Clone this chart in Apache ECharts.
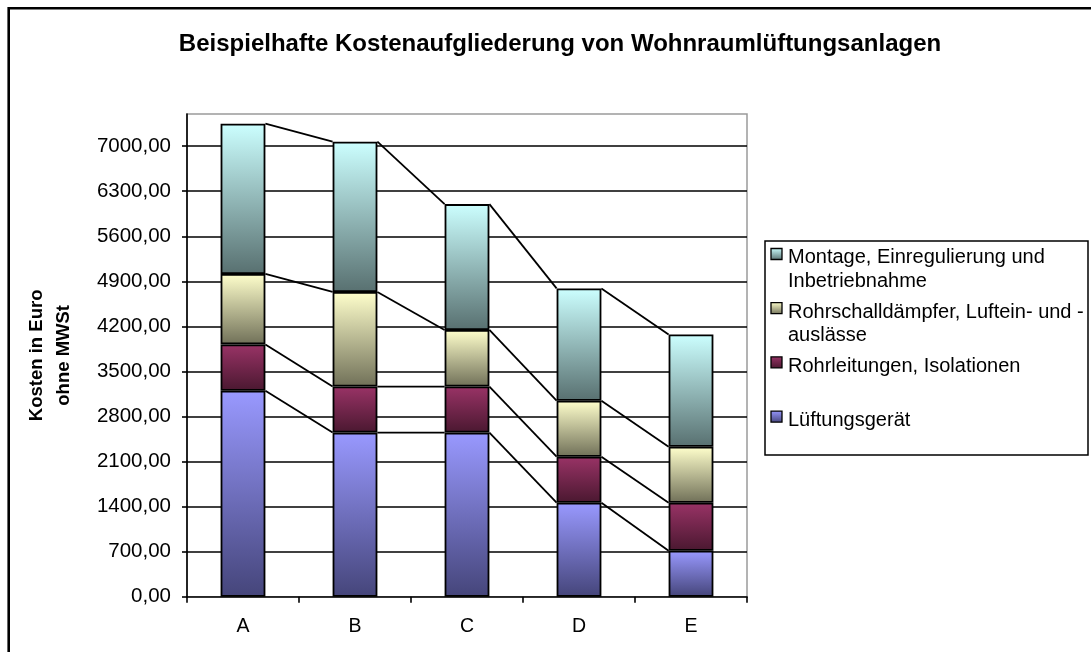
<!DOCTYPE html>
<html>
<head>
<meta charset="utf-8">
<script src="https://cdn.jsdelivr.net/npm/echarts@6/dist/echarts.min.js"></script>
<style>
  html, body { margin: 0; padding: 0; background: #ffffff; }
  #chart { width: 1091px; height: 652px; }
</style>
</head>
<body>
<div id="chart"></div>
<script>
// Categories (installations) and cost components, stacked bottom to top
const categories = ['A', 'B', 'C', 'D', 'E'];
const seriesNames = [
  'Lüftungsgerät',
  'Rohrleitungen, Isolationen',
  'Rohrschalldämpfer, Luftein- und -auslässe',
  'Montage, Einregulierung und Inbetriebnahme'
];
// Legend labels, listed top to bottom (reverse stack order), with line breaks
const legendLabels = [
  'Montage, Einregulierung und\nInbetriebnahme',
  'Rohrschalldämpfer, Luftein- und -\nauslässe',
  'Rohrleitungen, Isolationen',
  'Lüftungsgerät'
];
// Costs in euro without VAT
const lueftungsgeraet = [3200, 2550, 2550, 1460, 715];
const rohrleitungen   = [720, 715, 715, 715, 745];
const rohrschall      = [1095, 1470, 880, 870, 870];
const montage         = [2335, 2335, 1955, 1745, 1745];
// Value axis
const yMin = 0;
const yMax = 7500;
const yInterval = 700;

const seriesValues = [lueftungsgeraet, rohrleitungen, rohrschall, montage];
// Gradient fills (top colour, bottom colour) per component
const gradients = [
  ['#9999FF', '#45457A'],
  ['#993366', '#4A1830'],
  ['#FFFFCC', '#707058'],
  ['#CCFFFF', '#587070']
];
const BAR_RATIO = 0.4;
const FONT = '"Liberation Sans", Arial, sans-serif';

function grad(c) {
  return new echarts.graphic.LinearGradient(0, 0, 0, 1, [
    { offset: 0, color: c[0] },
    { offset: 1, color: c[1] }
  ]);
}

// Cumulative stack tops per category
const cumulative = categories.map((_, i) => {
  let s = 0;
  return seriesValues.map(arr => (s += arr[i]));
});

// Connector-line data: one item per gap between neighbouring bars
const connectorData = [];
for (let i = 0; i < categories.length - 1; i++) {
  connectorData.push([i, i + 1].concat(cumulative[i], cumulative[i + 1]));
}

const chart = echarts.init(document.getElementById('chart'), null, { renderer: 'canvas' });

const barSeries = seriesNames.map((name, k) => ({
  name: name,
  type: 'bar',
  stack: 'total',
  barWidth: (BAR_RATIO * 100) + '%',
  data: seriesValues[k],
  itemStyle: {
    color: grad(gradients[k]),
    borderColor: '#000000',
    borderWidth: 1.8
  },
  emphasis: { disabled: true },
  z: 2
}));

const connectorSeries = {
  type: 'custom',
  name: 'connectors',
  data: connectorData,
  z: 3,
  silent: true,
  renderItem: function (params, api) {
    const a = api.value(0);
    const b = api.value(1);
    const n = seriesNames.length;
    const half = api.size([1, 0])[0] * BAR_RATIO / 2;
    const children = [];
    for (let k = 0; k < n; k++) {
      const p1 = api.coord([a, api.value(2 + k)]);
      const p2 = api.coord([b, api.value(2 + n + k)]);
      children.push({
        type: 'line',
        shape: { x1: p1[0] + half, y1: p1[1], x2: p2[0] - half, y2: p2[1] },
        style: { stroke: '#000000', lineWidth: 1.8 }
      });
    }
    return { type: 'group', children: children };
  },
  encode: { x: 0, y: 2 }
};

// Legend drawn as a framed box on the right
const legendLeft = 765, legendTop = 241, legendW = 323, legendH = 214;
const legendStep = 54.2;
const legendChildren = [{
  type: 'rect',
  shape: { x: legendLeft, y: legendTop, width: legendW, height: legendH },
  style: { fill: '#ffffff', stroke: '#000000', lineWidth: 1.5 }
}];
legendLabels.forEach((label, i) => {
  const k = seriesNames.length - 1 - i;
  const cy = 254 + i * legendStep;
  legendChildren.push({
    type: 'rect',
    shape: { x: 771, y: cy - 5.5, width: 11, height: 11 },
    style: { fill: grad(gradients[k]), stroke: '#000000', lineWidth: 1.3 }
  });
  legendChildren.push({
    type: 'text',
    style: {
      text: label,
      x: 788,
      y: cy - 8,
      fill: '#000000',
      font: '20px ' + FONT,
      lineHeight: 23.7,
      verticalAlign: 'top'
    }
  });
});

const option = {
  backgroundColor: '#ffffff',
  animation: false,
  title: {
    text: 'Beispielhafte Kostenaufgliederung von Wohnraumlüftungsanlagen',
    left: 555,
    top: 27,
    textAlign: 'center',
    textStyle: {
      fontFamily: FONT,
      fontWeight: 'bold',
      fontSize: 24,
      color: '#000000'
    }
  },
  grid: {
    left: 187,
    right: 344,
    top: 114,
    bottom: 55.3,
    show: true,
    borderColor: '#9a9a9a',
    borderWidth: 1.5,
    backgroundColor: 'transparent'
  },
  xAxis: {
    type: 'category',
    data: categories,
    boundaryGap: true,
    axisLine: { show: true, lineStyle: { color: '#000000', width: 1.6 } },
    axisTick: { show: true, alignWithLabel: false, length: 6, lineStyle: { color: '#000000', width: 1.6 } },
    axisLabel: {
      margin: 20,
      color: '#000000',
      fontFamily: FONT,
      fontSize: 19.5
    },
    splitLine: { show: false }
  },
  yAxis: {
    type: 'value',
    min: yMin,
    max: yMax,
    interval: yInterval,
    name: 'Kosten in Euro\nohne MWSt',
    nameLocation: 'middle',
    nameRotate: 90,
    nameGap: 110,
    nameTextStyle: {
      fontFamily: FONT,
      fontWeight: 'bold',
      fontSize: 18.5,
      lineHeight: 27,
      color: '#000000',
      align: 'center'
    },
    axisLine: { show: true, lineStyle: { color: '#000000', width: 1.6 } },
    axisTick: { show: true, length: 5, lineStyle: { color: '#000000', width: 1.6 } },
    axisLabel: {
      margin: 16,
      showMaxLabel: false,
      color: '#000000',
      fontFamily: FONT,
      fontSize: 20.5,
      formatter: v => (v % yInterval === 0 ? v.toFixed(2).replace('.', ',') : '')
    },
    splitLine: {
      show: true,
      showMinLine: false,
      showMaxLine: false,
      lineStyle: { color: '#000000', width: 1.5 }
    }
  },
  graphic: [
    {
      type: 'rect',
      z: 100,
      silent: true,
      shape: { x: 8.7, y: 8.3, width: 1200, height: 800 },
      style: { fill: 'none', stroke: '#000000', lineWidth: 2.6 }
    },
    { type: 'group', z: 50, children: legendChildren }
  ],
  series: barSeries.concat([connectorSeries])
};

chart.setOption(option);
</script>
</body>
</html>
